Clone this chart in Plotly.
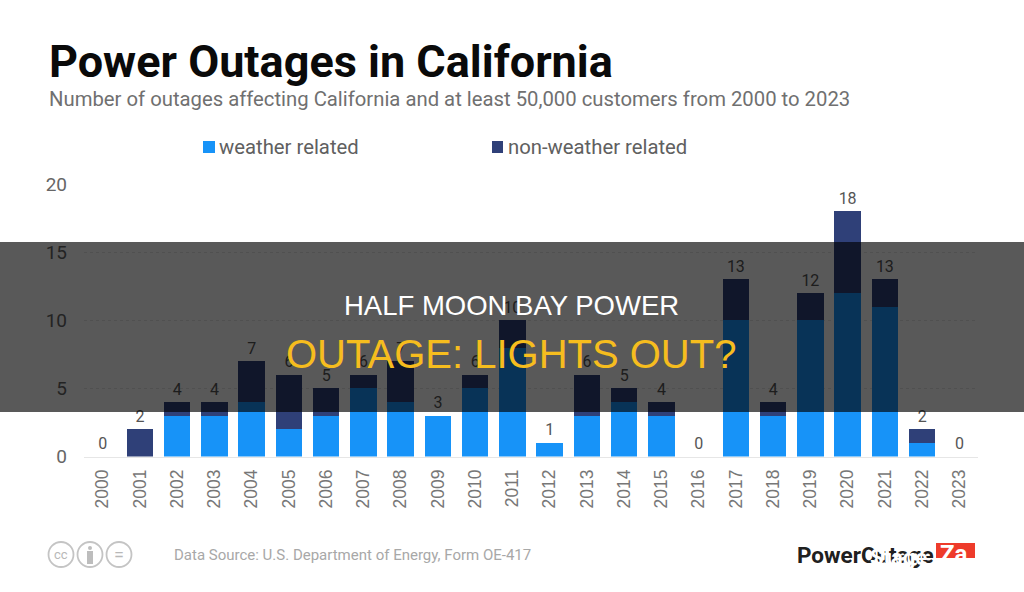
import plotly.graph_objects as go

# Outage counts per year, split by cause
years = [str(y) for y in range(2000, 2024)]
weather = [0, 0, 3, 3, 4, 2, 3, 5, 4, 3, 5, 8, 1, 3, 4, 3, 0, 10, 3, 10, 12, 11, 1, 0]
non_weather = [0, 2, 1, 1, 3, 4, 2, 1, 3, 0, 1, 2, 0, 3, 1, 1, 0, 3, 1, 2, 6, 2, 1, 0]
totals = [w + n for w, n in zip(weather, non_weather)]
y_ticks = [0, 5, 10, 15, 20]

W, H = 1024, 592
BLUE = "#1793f8"
NAVY = "#2f4078"
SANS = "Roboto, sans-serif"


def px(x):
    return x / W


def py(y):
    return 1 - y / H


fig = go.Figure()
fig.add_bar(x=years, y=weather, name="weather related", marker_color=BLUE, marker_line_width=0)
fig.add_bar(x=years, y=non_weather, name="non-weather related", marker_color=NAVY, marker_line_width=0)
# Totals sit above each stack; the transparent marker sets their distance from the bar
fig.add_scatter(
    x=years, y=totals, mode="markers+text", text=[str(t) for t in totals], textposition="top center",
    marker=dict(size=4, opacity=0),
    textfont=dict(family=SANS, size=16, color="#555555"), cliponaxis=False, hoverinfo="skip",
)


def label(x, y, text, size, color, family=SANS, anchor="left", bold=False):
    fig.add_annotation(
        x=px(x), y=py(y), xref="paper", yref="paper", xanchor=anchor, yanchor="middle",
        text=f"<b>{text}</b>" if bold else text, showarrow=False, borderpad=0, borderwidth=0,
        font=dict(family=family, size=size, color=color),
    )


shapes = []


def rect(x0, y0, x1, y1, color, layer="above"):
    shapes.append(dict(type="rect", xref="paper", yref="paper", x0=px(x0), x1=px(x1),
                       y0=py(y0), y1=py(y1), fillcolor=color, line_width=0, layer=layer))


def ring(cx, cy, r, fill=None, width=1.8):
    shapes.append(dict(type="circle", xref="paper", yref="paper", x0=px(cx - r), x1=px(cx + r),
                       y0=py(cy + r), y1=py(cy - r), fillcolor=fill,
                       line=dict(color="#c4c4c4", width=width)))


# Heading block
label(49, 61, "Power Outages in California", 45, "#0a0a0a", bold=True)
label(49, 99, "Number of outages affecting California and at least 50,000 customers from 2000 to 2023", 20.3, "#707070")

# Legend
rect(203, 141, 215, 153, BLUE)
label(219, 147, "weather related", 20.3, "#606060")
rect(492, 141, 503, 153, NAVY)
label(508, 147, "non-weather related", 20.3, "#606060")

# Footer: licence badges, source line, wordmark
ring(61, 554.5, 12.5)
ring(90, 554.5, 12.5)
ring(119, 554.5, 12.5)
label(61, 554.5, "cc", 13, "#b8b8b8", anchor="center")
ring(90, 548, 2, fill="#bdbdbd", width=0)
rect(87, 551, 93, 564, "#bdbdbd")
label(119, 554, "=", 18, "#b8b8b8", anchor="center")
label(174, 555, "Data Source: U.S. Department of Energy, Form OE-417", 15, "#a8a8a8")
rect(936, 543, 975, 558, "#ee3b2b", layer="below")
label(797, 555, "PowerOutage", 22.5, "#202020", bold=True)
label(870, 557, "Stage", 22, "#ffffff", bold=True)
label(940, 554, "Za", 24, "#ffffff", bold=True)

# Translucent banner with its headline across the chart
rect(0, 242, W, 412, "rgba(0,0,0,0.65)")
label(511, 305, "HALF MOON BAY POWER", 27.5, "#ffffff", family="Liberation Sans", anchor="center")
label(511, 354, "OUTAGE: LIGHTS OUT?", 40, "#f6bd1e", family="Liberation Sans", anchor="center")

fig.update_layout(
    width=W, height=H, margin=dict(l=0, r=0, t=0, b=0, autoexpand=False), autosize=False,
    paper_bgcolor="white", plot_bgcolor="white", barmode="stack", bargap=0.29,
    showlegend=False, shapes=shapes,
)
fig.update_xaxes(
    domain=[px(84), px(978)], type="category", range=[-0.5, 23.5], tickangle=-90, ticks="",
    tickfont=dict(family="Liberation Sans", size=17.5, color="#777777"), automargin=False,
    showgrid=False, showline=True, linecolor="#e6e6e6", linewidth=1, ticklabelstandoff=5,
)
fig.update_yaxes(
    domain=[py(456.5), py(184)], range=[0, 20], tickvals=y_ticks, ticks="", automargin=False,
    tickfont=dict(family=SANS, size=19, color="#666666"), ticklabelstandoff=16,
    showgrid=True, gridcolor="#e4e4e4", griddash="dot", gridwidth=1, zeroline=False,
)

fig.write_html("out.html")
